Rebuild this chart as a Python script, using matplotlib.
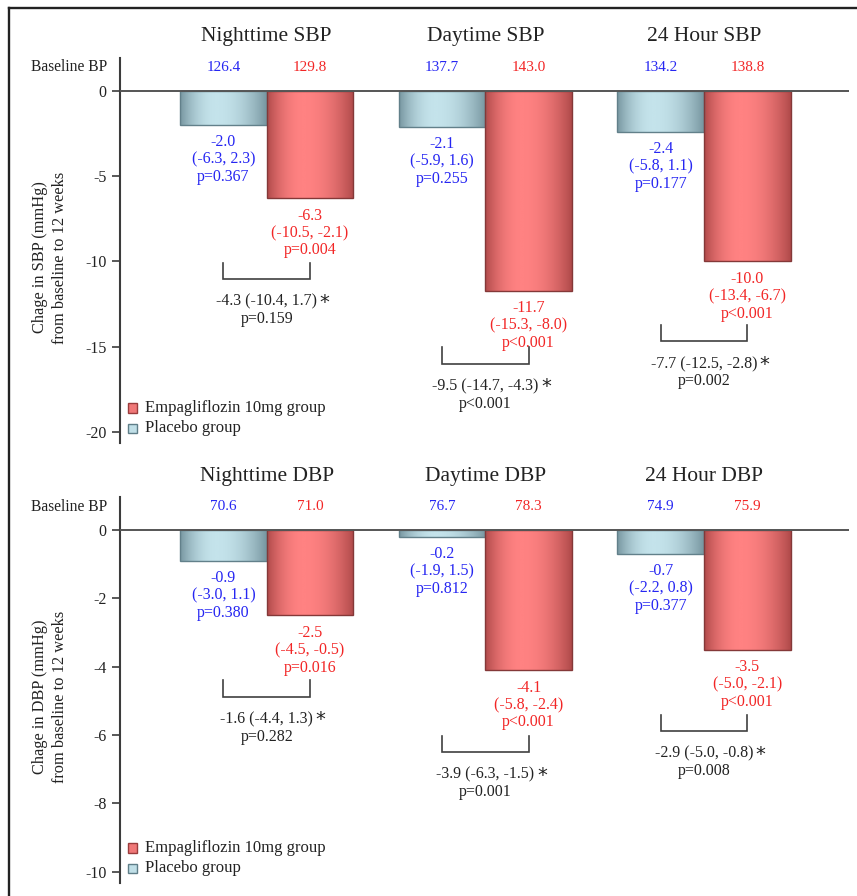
import numpy as np
import matplotlib
matplotlib.use("Agg")
import matplotlib.pyplot as plt
from matplotlib.patches import Rectangle
from matplotlib.lines import Line2D
from matplotlib.colors import LinearSegmentedColormap

plt.rcParams["font.family"] = ["Liberation Serif", "DejaVu Serif"]

# ---------------- data ----------------
sbp_titles = ["Nighttime SBP", "Daytime SBP", "24 Hour SBP"]
sbp_base_placebo = [126.4, 137.7, 134.2]
sbp_base_empa = [129.8, 143.0, 138.8]
sbp_placebo = [-2.0, -2.1, -2.4]
sbp_placebo_ci = [(-6.3, 2.3), (-5.9, 1.6), (-5.8, 1.1)]
sbp_placebo_p = ["p=0.367", "p=0.255", "p=0.177"]
sbp_empa = [-6.3, -11.7, -10.0]
sbp_empa_ci = [(-10.5, -2.1), (-15.3, -8.0), (-13.4, -6.7)]
sbp_empa_p = ["p=0.004", "p<0.001", "p<0.001"]
sbp_diff = [-4.3, -9.5, -7.7]
sbp_diff_ci = [(-10.4, 1.7), (-14.7, -4.3), (-12.5, -2.8)]
sbp_diff_p = ["p=0.159", "p<0.001", "p=0.002"]

dbp_titles = ["Nighttime DBP", "Daytime DBP", "24 Hour DBP"]
dbp_base_placebo = [70.6, 76.7, 74.9]
dbp_base_empa = [71.0, 78.3, 75.9]
dbp_placebo = [-0.9, -0.2, -0.7]
dbp_placebo_ci = [(-3.0, 1.1), (-1.9, 1.5), (-2.2, 0.8)]
dbp_placebo_p = ["p=0.380", "p=0.812", "p=0.377"]
dbp_empa = [-2.5, -4.1, -3.5]
dbp_empa_ci = [(-4.5, -0.5), (-5.8, -2.4), (-5.0, -2.1)]
dbp_empa_p = ["p=0.016", "p<0.001", "p<0.001"]
dbp_diff = [-1.6, -3.9, -2.9]
dbp_diff_ci = [(-4.4, 1.3), (-6.3, -1.5), (-5.0, -0.8)]
dbp_diff_p = ["p=0.282", "p=0.001", "p=0.008"]

legend_labels = ["Empagliflozin 10mg group", "Placebo group"]

# ---------------- style ----------------
W, H = 857, 896
BLUE_TXT = "#2626f2"
RED_TXT = "#f22626"
DARK = "#222222"
AXC = "#3c3c3c"
SERIF = ["Liberation Serif", "DejaVu Serif"]

placebo_cmap = LinearSegmentedColormap.from_list(
    "placebo", ["#7796a0", "#c4e3eb"])
empa_cmap = LinearSegmentedColormap.from_list(
    "empa", ["#b04a4a", "#ff8282"])

BAR_W = 0.396
OFFS = 0.198


def cyl_profile(n=200, peak=0.42):
    t = np.linspace(0, 1, n)
    d = np.where(t < peak, (peak - t) / peak, (t - peak) / (1 - peak))
    return (1 - d ** 2.0)


fig = plt.figure(figsize=(W / 100, H / 100), dpi=100)

# outer frame (top and left edges)
fig.add_artist(Line2D([8.5 / W, 8.5 / W], [0, 1 - 8.5 / H], color=DARK,
                      lw=1.7, transform=fig.transFigure))
fig.add_artist(Line2D([8.5 / W, 1], [1 - 8.5 / H, 1 - 8.5 / H], color=DARK,
                      lw=1.7, transform=fig.transFigure))


def fpx(x, y):
    return x / W, 1 - y / H


def draw_bar(ax, x, val, cmap, edge):
    bar = ax.bar(x, val, width=BAR_W, facecolor="none", edgecolor=edge,
                 linewidth=1.0, zorder=3)[0]
    prof = cyl_profile()[None, :]
    im = ax.imshow(prof, cmap=cmap, vmin=0, vmax=1, aspect="auto",
                   extent=(x - BAR_W / 2, x + BAR_W / 2, val, 0),
                   interpolation="bilinear", zorder=2)
    im.set_clip_path(bar)


def label_lines(ax, x, y, lines, color, first_off=17.5, step=17.3, size=11.5):
    for k, s in enumerate(lines):
        ax.annotate(s, xy=(x, y), xycoords="data",
                    xytext=(0, -(first_off + k * step)),
                    textcoords="offset pixels", ha="center", va="center",
                    fontsize=size, color=color, family=SERIF)


def panel(ax_rect, ylim, yticks, titles, base_p, base_e, vp, cip, pp,
          ve, cie, pe, vd, cid, pd_, bracket_tops, ylabel):
    ax = fig.add_axes(ax_rect)
    ax.set_xlim(-0.671, 2.663)
    ax.set_ylim(*ylim)
    for s in ["top", "right", "bottom"]:
        ax.spines[s].set_visible(False)
    ax.spines["left"].set_color(AXC)
    ax.spines["left"].set_linewidth(1.5)
    ax.set_xticks([])
    ax.set_yticks(yticks)
    ax.set_yticklabels([str(t) for t in yticks], family=SERIF)
    ax.tick_params(axis="y", direction="out", length=5.5, width=1.2,
                   color=AXC, labelsize=11.5, labelcolor=DARK, pad=4)
    ax.axhline(0, color="#555555", lw=1.4, zorder=4)

    ppu = ax_rect[3] * H / (ylim[1] - ylim[0])  # pixels per data unit
    xs = np.arange(len(titles))
    for i in xs:
        xp, xe = i - OFFS, i + OFFS
        draw_bar(ax, xp, vp[i], placebo_cmap, "#62808a")
        draw_bar(ax, xe, ve[i], empa_cmap, "#843838")

        ax.annotate(titles[i], xy=(i, 0), xytext=(0, 54),
                    textcoords="offset pixels", ha="center", va="center",
                    fontsize=15.5, color=DARK, family=SERIF)
        ax.annotate(f"{base_p[i]:.1f}", xy=(xp, 0), xytext=(0, 23.5),
                    textcoords="offset pixels", ha="center", va="center",
                    fontsize=11, color=BLUE_TXT, family=SERIF)
        ax.annotate(f"{base_e[i]:.1f}", xy=(xe, 0), xytext=(0, 23.5),
                    textcoords="offset pixels", ha="center", va="center",
                    fontsize=11, color=RED_TXT, family=SERIF)

        label_lines(ax, xp, vp[i],
                    [f"{vp[i]:.1f}", f"({cip[i][0]:.1f}, {cip[i][1]:.1f})", pp[i]],
                    BLUE_TXT)
        label_lines(ax, xe, ve[i],
                    [f"{ve[i]:.1f}", f"({cie[i][0]:.1f}, {cie[i][1]:.1f})", pe[i]],
                    RED_TXT)

        # comparison bracket between the two bars
        top = bracket_tops[i]
        bot = top - 16.5 / ppu
        ax.plot([xp, xp, xe, xe], [top, bot, bot, top], color="#404040",
                lw=1.2, solid_joinstyle="miter", zorder=4)
        t1 = ax.annotate(f"{vd[i]:.1f} ({cid[i][0]:.1f}, {cid[i][1]:.1f})",
                         xy=(i, bot), xytext=(0, -22.5),
                         textcoords="offset pixels", ha="center", va="center",
                         fontsize=11.5, color=DARK, family=SERIF)
        ax.annotate("*", xy=(1, 1), xycoords=t1, xytext=(2.5, 1),
                    textcoords="offset pixels", ha="left", va="top",
                    fontsize=14, color=DARK, family=["DejaVu Sans"])
        ax.annotate(pd_[i], xy=(i, bot), xytext=(0, -40),
                    textcoords="offset pixels", ha="center", va="center",
                    fontsize=11.5, color=DARK, family=SERIF)

    ax.annotate("Baseline BP", xy=(0, 0), xycoords=("axes fraction", "data"),
                xytext=(-13, 23.5), textcoords="offset pixels", ha="right",
                va="center", fontsize=11.2, color=DARK, family=SERIF)

    # y axis title
    yc = (1 - ax_rect[1] - ax_rect[3] / 2) * H + 7
    fig.text(*fpx(50, yc), ylabel, rotation=90, ha="center", va="center",
             fontsize=11.8, color=DARK, family=SERIF, linespacing=1.3,
             multialignment="center")

    # legend
    ybot = (1 - ax_rect[1]) * H
    entries = [(legend_labels[0], "#f07878", "#9a3c3c", 35.0),
               (legend_labels[1], "#c0dfe7", "#5f7e88", 14.7)]
    for lab, fc, ec, dy in entries:
        cy = ybot - dy
        fig.add_artist(Rectangle(fpx(128, cy + 4.7), 9.4 / W, 9.4 / H,
                                 facecolor=fc, edgecolor=ec, lw=1.0,
                                 transform=fig.transFigure))
        fig.text(*fpx(145, cy), lab, ha="left", va="center", fontsize=12,
                 color=DARK, family=SERIF)
    return ax


top_rect = [120 / W, 1 - 443 / H, 729 / W, 385 / H]
bot_rect = [120 / W, 1 - 883 / H, 729 / W, 386 / H]

panel(top_rect, (-20.63, 1.915), [0, -5, -10, -15, -20], sbp_titles,
      sbp_base_placebo, sbp_base_empa, sbp_placebo, sbp_placebo_ci,
      sbp_placebo_p, sbp_empa, sbp_empa_ci, sbp_empa_p, sbp_diff,
      sbp_diff_ci, sbp_diff_p, [-10.07, -15.02, -13.72],
      "Chage in SBP (mmHg)\nfrom baseline to 12 weeks")

panel(bot_rect, (-10.33, 0.966), [0, -2, -4, -6, -8, -10], dbp_titles,
      dbp_base_placebo, dbp_base_empa, dbp_placebo, dbp_placebo_ci,
      dbp_placebo_p, dbp_empa, dbp_empa_ci, dbp_empa_p, dbp_diff,
      dbp_diff_ci, dbp_diff_p, [-4.39, -6.02, -5.41],
      "Chage in DBP (mmHg)\nfrom baseline to 12 weeks")

fig.savefig("out.png", dpi=100)
